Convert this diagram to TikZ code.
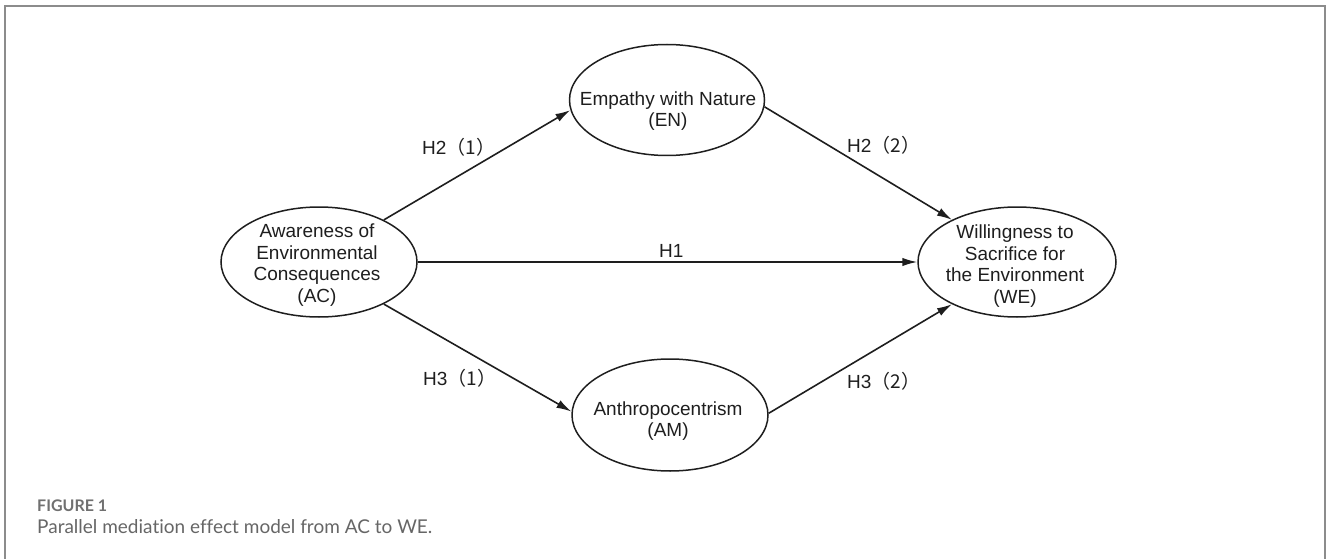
\documentclass[tikz,border=0pt]{standalone}
\usepackage{fontspec}
\setmainfont{Liberation Sans}
\newfontfamily\cjk{Noto Sans CJK SC}
\newfontfamily\capfont[Ligatures=NoCommon]{Lato}
\usetikzlibrary{shapes.geometric,arrows.meta}
\definecolor{framegray}{HTML}{8C8C8C}
\definecolor{figgray}{HTML}{707070}
\definecolor{capgray}{HTML}{666666}
\definecolor{ink}{HTML}{1E1E1E}
\begin{document}
\begin{tikzpicture}[x=1pt,y=-1pt,
  ell/.style={draw=ink, line width=1.5pt, ellipse, inner sep=0pt},
  txt/.style={align=center, font=\fontsize{19}{21.7}\selectfont, text=ink, inner sep=0pt},
  hyp/.style={anchor=base west, font=\fontsize{19}{22}\selectfont, text=ink, inner sep=0pt},
  conn/.style={draw=ink, line width=1.6pt, -{Latex[length=15pt,width=8.5pt]}},
]
\useasboundingbox (0,0) rectangle (1328,559);
\draw[line width=2pt, draw=framegray] (5,575) -- (5,6) -- (1325,6) -- (1325,575);

% ellipses
\node[ell, minimum width=196pt, minimum height=110pt] (AC) at (319,262) {};
\node[ell, minimum width=198pt, minimum height=110pt] (WE) at (1017,262) {};
\node[ell, minimum width=195pt, minimum height=111pt] (EN) at (667,100) {};
\node[ell, minimum width=196pt, minimum height=112pt] (AM) at (670,415) {};

% texts
\node[txt] (ACt) at (317,265) {Awareness of\\Environmental\\Consequences\\(AC)};
\node[txt] (WEt) at (1015,266) {Willingness to\\Sacrifice for\\the Environment\\(WE)};
\node[txt] (ENt) at (668,111) {Empathy with Nature\\(EN)};
\node[txt] (AMt) at (668,421) {Anthropocentrism\\(AM)};

% connectors
\draw[conn] (AC.33) -- (EN.186);
\draw[conn] (AC.east) -- (WE.west);
\draw[conn] (AC.-33) -- (AM.178);
\draw[conn] (EN.-4) -- (WE.147);
\draw[conn] (AM.1) -- (WE.213);

% labels
\node[hyp] (h21) at (422,155) {H2{\cjk （1）}};
\node[hyp] (h22) at (847,153) {H2{\cjk （2）}};
\node[hyp] (h1) at (659,257) {H1};
\node[hyp] (h31) at (423,385) {H3{\cjk （1）}};
\node[hyp] (h32) at (847,388) {H3{\cjk （2）}};

% caption
\node[anchor=base west, inner sep=0pt, font=\capfont\bfseries\fontsize{16}{18}\selectfont, text=figgray] (fig) at (37,511) {FIGURE 1};
\node[anchor=base west, inner sep=0pt, font=\capfont\fontsize{19}{21}\selectfont, text=capgray] (cap) at (37,533) {Parallel mediation effect model from AC to WE.};
\end{tikzpicture}
\end{document}
